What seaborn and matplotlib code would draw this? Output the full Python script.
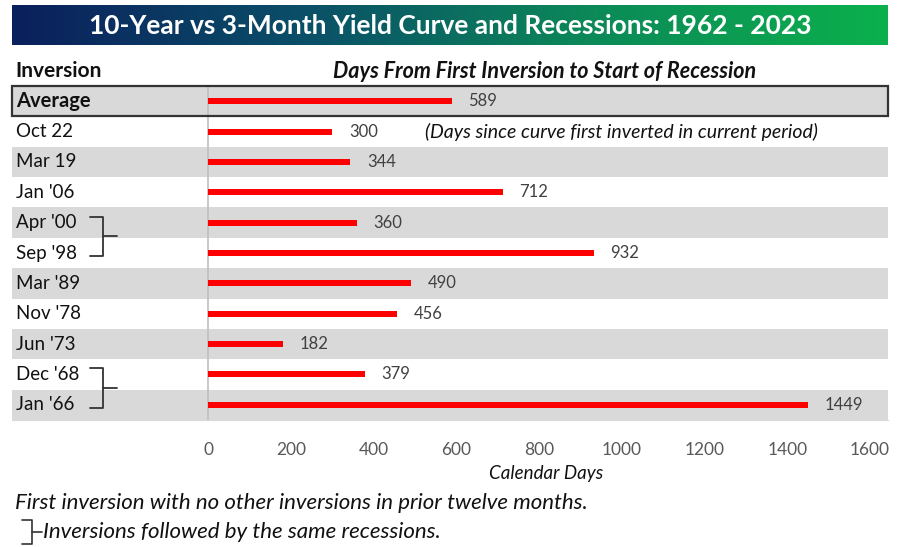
import numpy as np
import matplotlib.pyplot as plt
import seaborn as sns
import pandas as pd
from matplotlib.colors import LinearSegmentedColormap
from matplotlib.patches import Rectangle
from matplotlib.lines import Line2D

inversions = ["Average", "Oct 22", "Mar 19", "Jan '06", "Apr '00", "Sep '98",
              "Mar '89", "Nov '78", "Jun '73", "Dec '68", "Jan '66"]
days = [589, 300, 344, 712, 360, 932, 490, 456, 182, 379, 1449]
x_ticks = [0, 200, 400, 600, 800, 1000, 1200, 1400, 1600]
same_recession = [("Apr '00", "Sep '98"), ("Dec '68", "Jan '66")]

df = pd.DataFrame({"inversion": inversions, "days": days})

sns.set_style("white")
plt.rcParams["font.family"] = ["Lato", "DejaVu Sans"]

W, H = 906, 547
fig = plt.figure(figsize=(W / 100, H / 100), dpi=100)


def fbox(x0, y0, x1, y1):
    # pixel box (top-left origin) -> figure fraction rect
    return [x0 / W, 1 - y1 / H, (x1 - x0) / W, (y1 - y0) / H]


# title banner with gradient
tax = fig.add_axes(fbox(12, 5, 888, 45))
cmap = LinearSegmentedColormap.from_list("ban", ["#0a1f5c", "#0a4f68", "#0c8a58", "#0bb04c"])
tax.imshow(np.linspace(0, 1, 256).reshape(1, -1), aspect="auto", cmap=cmap, extent=[0, 1, 0, 1])
tax.set_axis_off()
tax.text(0.5, 0.48, "10-Year vs 3-Month Yield Curve and Recessions: 1962 - 2023",
         color="white", fontsize=19, fontweight="bold", ha="center", va="center")

# main table axes
ax = fig.add_axes(fbox(12, 86, 888, 420))
px = 1600 / 662
x_left = (12 - 208) * px
x_right = (888 - 208) * px

for i, lab in enumerate(inversions):
    if i % 2 == 0:
        ax.axhspan(i - 0.5, i + 0.5, color="#d9d9d9", lw=0, zorder=0)

sns.barplot(data=df, x="days", y="inversion", orient="h", color="#ff0000",
            width=0.2, saturation=1, linewidth=0, ax=ax, zorder=3)

ax.set_xlim(x_left, x_right)
ax.set_ylim(len(inversions) - 0.5, -0.5)
ax.axvline(0, color="#bfbfbf", lw=1.2, zorder=2)
ax.add_patch(Rectangle((x_left, -0.5), x_right - x_left, 1, fill=False,
                       edgecolor="#333333", lw=1.6, zorder=4, clip_on=False))

for i, (lab, d) in enumerate(zip(inversions, days)):
    ax.annotate(str(d), (d, i), xytext=(12, 0), textcoords="offset points",
                va="center", ha="left", fontsize=12, color="#404040")
    if lab == "Average":
        ax.text(x_left + 4 * px, i, lab, va="center", ha="left", fontsize=14.5,
                color="#111111", fontweight="bold")
    else:
        ax.text(x_left + 4 * px, i, lab, va="center", ha="left", fontsize=13.5,
                color="#111111")

ax.text(300 + 93 * px, 1, "(Days since curve first inverted in current period)",
        va="center", ha="left", fontsize=14, style="italic", color="#111111")

# brackets for inversions followed by the same recession
for a, b in same_recession:
    ya, yb = inversions.index(a) - 0.2, inversions.index(b) + 0.1
    x0 = (90 - 208) * px
    x1 = (103 - 208) * px
    x2 = (117 - 208) * px
    ym = (ya + yb) / 2
    ax.plot([x0, x1, x1, x0], [ya, ya, yb, yb], color="#333333", lw=1.3, zorder=5)
    ax.plot([x1, x2], [ym, ym], color="#333333", lw=1.3, zorder=5)

ax.set_xticks(x_ticks)
ax.set_xticklabels([str(t) for t in x_ticks], fontsize=12.5, color="#595959")
ax.tick_params(axis="x", length=0, pad=16)
ax.set_yticks([])
ax.set_xlabel("")
ax.set_ylabel("")
for s in ["top", "left", "right"]:
    ax.spines[s].set_visible(False)
ax.spines["bottom"].set_color("#d9d9d9")

fig.text(15 / W, 1 - 71 / H, "Inversion", fontsize=15, va="center", ha="left",
         fontweight="bold", color="#111111")
fig.text(545 / W, 1 - 71 / H, "Days From First Inversion to Start of Recession",
         fontsize=15.5, va="center", ha="center", style="italic", fontweight="bold",
         color="#111111")
fig.text(546 / W, 1 - 473 / H, "Calendar Days", fontsize=13.5, va="center",
         ha="center", style="italic", color="#111111")
fig.text(15 / W, 1 - 503 / H, "First inversion with no other inversions in prior twelve months.",
         fontsize=16, va="center", ha="left", style="italic", color="#111111")
fig.text(43 / W, 1 - 532 / H, "Inversions followed by the same recessions.",
         fontsize=16, va="center", ha="left", style="italic", color="#111111")
# legend bracket glyph
fig.add_artist(Line2D([22 / W, 32 / W, 32 / W, 22 / W], [1 - 520 / H, 1 - 520 / H, 1 - 544 / H, 1 - 544 / H],
                      color="#333333", lw=1.2))
fig.add_artist(Line2D([32 / W, 42 / W], [1 - 532 / H, 1 - 532 / H], color="#333333", lw=1.2))

fig.savefig("out.png", dpi=100)
